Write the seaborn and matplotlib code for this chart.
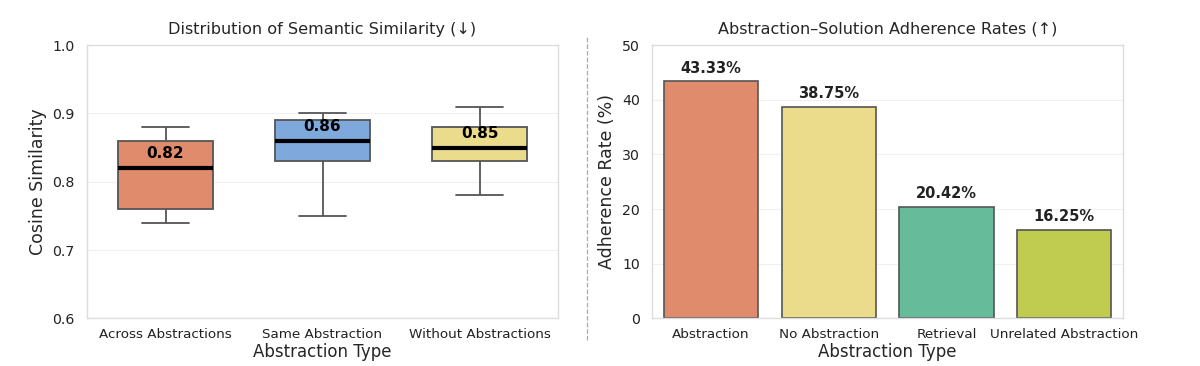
import matplotlib
matplotlib.use("Agg")
import matplotlib.pyplot as plt
from matplotlib.lines import Line2D
import seaborn as sns
import pandas as pd

# left panel: five-number summaries per group (min, q1, median, q3, max)
box_groups = ["Across Abstractions", "Same Abstraction", "Without Abstractions"]
across_vals = [0.74, 0.76, 0.82, 0.86, 0.88]
same_vals = [0.75, 0.83, 0.86, 0.89, 0.90]
without_vals = [0.78, 0.83, 0.85, 0.88, 0.91]
box_colors = ["#E08B6B", "#7FA8DC", "#EBDC8C"]

# right panel
bar_groups = ["Abstraction", "No Abstraction", "Retrieval", "Unrelated Abstraction"]
bar_rates = [43.33, 38.75, 20.42, 16.25]
bar_colors = ["#E08B6B", "#EBDC8C", "#66BB9A", "#BFCC4F"]

sns.set_theme(style="whitegrid")
plt.rcParams["font.family"] = ["DejaVu Sans"]

fig, (ax1, ax2) = plt.subplots(1, 2, figsize=(12, 3.66), dpi=100)
fig.subplots_adjust(left=0.0725, right=0.936, top=0.877, bottom=0.13, wspace=0.2)

df = pd.DataFrame({
    "type": [g for g, v in zip(box_groups, [across_vals, same_vals, without_vals]) for _ in v],
    "sim": across_vals + same_vals + without_vals,
})
sns.boxplot(data=df, x="type", y="sim", hue="type", palette=box_colors, legend=False,
            saturation=1, width=0.6, whis=(0, 100), linewidth=1.3, linecolor="#555555",
            medianprops=dict(color="black", linewidth=3), ax=ax1)
medians = df.groupby("type", sort=False)["sim"].median()
for i, g in enumerate(box_groups):
    ax1.text(i, medians[g] + 0.01, f"{medians[g]:.2f}", ha="center", va="bottom",
             fontsize=11, fontweight="bold", color="black")
ax1.set_ylim(0.6, 1.0)
ax1.set_yticks([0.6, 0.7, 0.8, 0.9, 1.0])
ax1.set_title("Distribution of Semantic Similarity (\u2193)", fontsize=11.6, pad=8)
ax1.set_xlabel("Abstraction Type", fontsize=12, labelpad=1)
ax1.set_ylabel("Cosine Similarity", fontsize=12.5)

bdf = pd.DataFrame({"type": bar_groups, "rate": bar_rates})
sns.barplot(data=bdf, x="type", y="rate", hue="type", palette=bar_colors, legend=False,
            saturation=1, width=0.8, edgecolor="#555555", linewidth=1.2, ax=ax2)
for i, r in enumerate(bar_rates):
    ax2.text(i, r + 1.0, f"{r:.2f}%", ha="center", va="bottom",
             fontsize=10.5, fontweight="bold", color="#222222")
ax2.set_ylim(0, 50)
ax2.set_title("Abstraction\u2013Solution Adherence Rates (\u2191)", fontsize=11.6, pad=8)
ax2.set_xlabel("Abstraction Type", fontsize=12, labelpad=1)
ax2.set_ylabel("Adherence Rate (%)", fontsize=12.5)

for ax in (ax1, ax2):
    ax.grid(axis="y", color="#f0f0f0", linewidth=0.8)
    ax.grid(axis="x", visible=False)
    ax.tick_params(axis="y", labelsize=10.2, colors="#222222", pad=3)
    ax.tick_params(axis="x", labelsize=9.7, colors="#222222", pad=1)
    for s in ax.spines.values():
        s.set_color("#dddddd")
        s.set_linewidth(1.0)

fig.add_artist(Line2D([0.489, 0.489], [0.07, 0.9], transform=fig.transFigure,
                      color="#aaaaaa", linestyle="--", linewidth=0.9))

fig.savefig("out.png", dpi=100, facecolor="white")
